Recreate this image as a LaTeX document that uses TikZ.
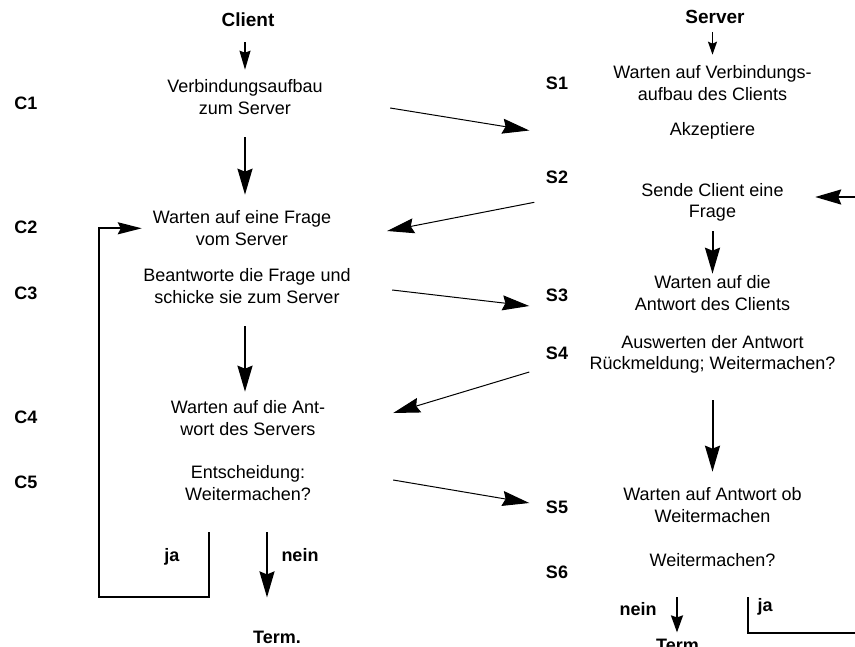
\documentclass[tikz,border=0pt]{standalone}
\usepackage{fontspec}
\setmainfont{Liberation Sans}
\usepackage{tikz}
\usetikzlibrary{arrows.meta}
\usetikzlibrary{positioning}
\tikzstyle{ctext} = [inner sep=0pt, align=center, font=\fontsize{18}{21.6}\selectfont, minimum width=290pt]
\tikzstyle{stext} = [inner sep=0pt, align=center, font=\fontsize{18}{21.6}\selectfont, minimum width=366pt]
\tikzstyle{head} = [inner sep=0pt, font=\fontsize{19}{22}\selectfont\bfseries]
\tikzstyle{phase} = [inner sep=0pt, font=\fontsize{18}{21.6}\selectfont\bfseries]
\tikzstyle{branch} = [inner sep=0pt, anchor=base, font=\fontsize{18}{21.6}\selectfont\bfseries]
\tikzstyle{arrow} = [line width=2pt, -{Stealth[length=26pt,width=15pt,inset=3pt]}]
\tikzstyle{msg} = [line width=1pt, -{Stealth[length=27pt,width=15pt,inset=3pt]}]
\tikzstyle{start} = [line width=1.5pt, -{Stealth[length=19pt,width=11pt,inset=2pt]}]

\begin{document}
\begin{tikzpicture}[x=1pt,y=-1pt]
	\useasboundingbox (0,0) rectangle (855,646);
	\node [head] (client) at (248,20) {Client};
	\node [head] (server) at (715,17) {Server};

	\node [phase] (lc1) at (26,103) {C1};
	\node [phase] (lc2) at (26,227) {C2};
	\node [phase] (lc3) at (26,293) {C3};
	\node [phase] (lc4) at (26,417) {C4};
	\node [phase] (lc5) at (26,482) {C5};
	\node [phase] (ls1) at (557,83) {S1};
	\node [phase] (ls2) at (557,177) {S2};
	\node [phase] (ls3) at (557,295) {S3};
	\node [phase] (ls4) at (557,353) {S4};
	\node [phase] (ls5) at (557,507) {S5};
	\node [phase] (ls6) at (557,572) {S6};

	\node [ctext] (c1) at (245,97.3) {Verbindungsaufbau\\zum Server};
	\node [ctext] (c2) at (242,228.3) {Warten auf eine Frage\\vom Server};
	\node [ctext] (c3) at (247,286.3) {Beantworte die Frage und\\schicke sie zum Server};
	\node [ctext] (c4) at (248,418.3) {Warten auf die Ant-\\wort des Servers};
	\node [ctext] (c5) at (248,483.3) {Entscheidung:\\Weitermachen?};

	\node [stext] (s1) at (712.5,83.3) {Warten auf Verbindungs-\\aufbau des Clients};
	\node [stext] (akz) at (712.5,130.5) {Akzeptiere};
	\node [stext] (s2) at (712.5,202.3) {Sende Client eine\\Frage};
	\node [stext] (s3) at (712.5,293.3) {Warten auf die\\Antwort des Clients};
	\node [stext] (s4) at (712.5,354.3) {Auswerten der Antwort\\Rückmeldung; Weitermachen?};
	\node [stext] (s5) at (712.5,505.3) {Warten auf Antwort ob\\Weitermachen};
	\node [stext] (s6) at (712.5,560.5) {Weitermachen?};

	\coordinate (cja) at (209,532);
	\coordinate (cnein) at (267,532);
	\coordinate (sja) at (748,597);
	\coordinate (snein) at (677,597);
	\node [branch] (cjal) at (172,561) {ja};
	\node [branch] (cneinl) at (300,561) {nein};
	\node [branch] (cterm) at (277,643) {Term.};
	\node [branch] (sneinl) at (638,615) {nein};
	\node [branch] (sjal) at (765,611) {ja};
	\node [branch] (sterm) at (680,651) {Term.};

	\draw [start, shorten <=15pt, shorten >=10pt] (client.south -| c1.north) -- (c1.north);
	\draw [start, -{Stealth[length=13pt,width=9pt,inset=2pt]}, shorten <=8pt, shorten >=11pt] (server.south -| s1.north) -- (s1.north);
	\draw [arrow, shorten <=22.4pt, shorten >=16pt] (c1.south) -- (c1.south |- c2.north);
	\draw [arrow, shorten <=22.4pt, shorten >=9pt] (c3.south -| c1.south) -- (c1.south |- c4.north);
	\draw [arrow, shorten <=9.4pt, shorten >=2pt] (s2.south) -- (s3.north);
	\draw [arrow, shorten <=26.4pt, shorten >=16pt] (s4.south) -- (s5.north);

	\draw [msg] ([yshift=-10.7pt]c1.east) -- (akz.west);
	\draw [msg] ([xshift=5pt]s2.west) -- ([yshift=-2.7pt]c2.east);
	\draw [msg] ([yshift=-3.7pt]c3.east) -- ([yshift=-12.7pt]s3.west);
	\draw [msg] ([yshift=-17.7pt]s4.west) -- ([yshift=5.3pt]c4.east);
	\draw [msg] ([yshift=3.3pt]c5.east) -- ([yshift=2.3pt]s5.west);

	\draw [arrow, -{Stealth[length=24pt,width=12pt,inset=3pt]}] (cja) |- ++(-110,65) |- ([xshift=45pt]c2.west);
	\draw [arrow, shorten >=33pt] (cnein) -- (cnein |- cterm.north);
	\draw [arrow, -{Stealth[length=17pt,width=12pt,inset=2pt]}, shorten >=6pt] (snein) -- (snein |- sterm.north);
	\draw [arrow] (sja) |- ++(160,36) |- ([xshift=-80.5pt,yshift=5.3pt]s2.east);
\end{tikzpicture}
\end{document}
